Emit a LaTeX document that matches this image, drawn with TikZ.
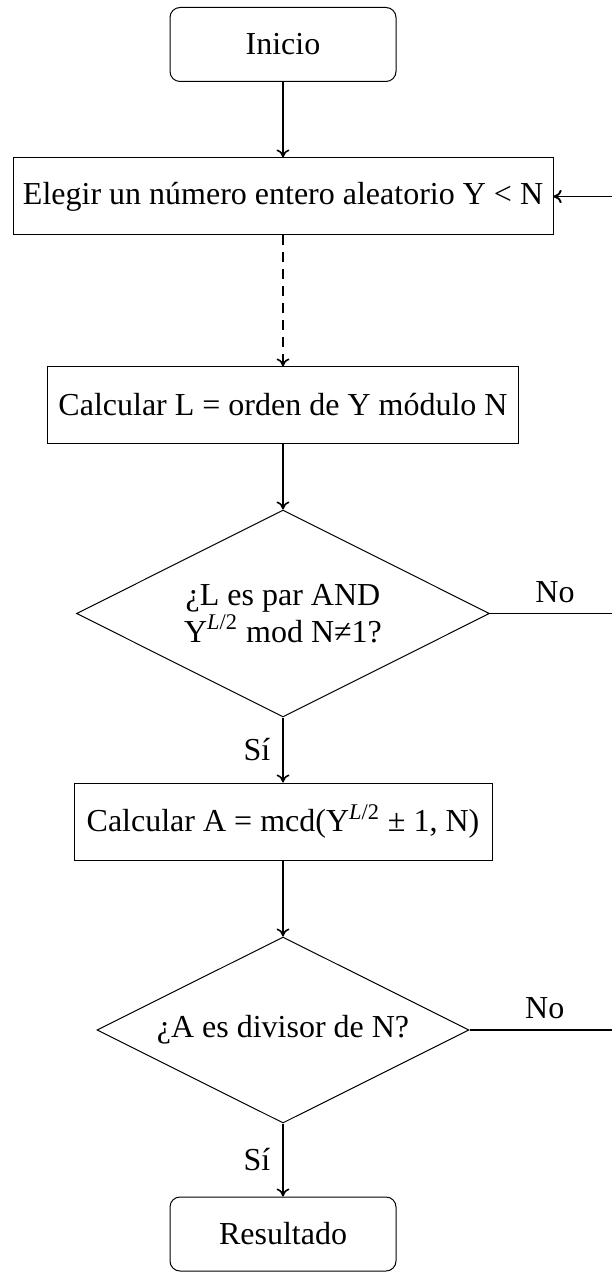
\documentclass[tikz,border=0pt]{standalone}
\usepackage{fontspec}
\setmainfont{Liberation Serif}
\usetikzlibrary{shapes.geometric,arrows.meta}
\begin{document}
\begin{tikzpicture}[x=0.5pt,y=-0.5pt,
  font=\fontsize{16}{18.5}\selectfont,
  boxline/.style={draw, line width=0.5pt},
  proc/.style={boxline, rectangle, minimum height=38.5pt, inner sep=1pt},
  term/.style={boxline, rectangle, rounded corners=5pt, minimum width=113pt, minimum height=37pt},
  decision/.style={boxline, diamond, aspect=2, align=center, inner sep=1pt},
  flow/.style={-{To[length=4pt,width=6.5pt]}, line width=0.8pt},
  dashflow/.style={flow, dash pattern=on 5pt off 3.5pt}
]
\useasboundingbox (0,0) rectangle (611,1272);

% flowchart nodes
\node[term] (inicio) at (283,44.5) {Inicio};
\node[proc, minimum width=270pt] (elegir) at (283,196.5)
  {Elegir un número entero aleatorio Y < N};
\node[proc, minimum width=235.5pt, minimum height=38pt] (calcL) at (283,405)
  {Calcular L = orden de Y módulo N};
\node[decision, minimum width=206.5pt, minimum height=103.5pt] (d1) at (283,613.5)
  {¿L es par AND\\Y\textsuperscript{\textit{L}/2} mod N≠1?};
\node[proc, minimum width=209pt] (calcA) at (283,821.5)
  {Calcular A = mcd(Y\textsuperscript{\textit{L}/2} ± 1, N)};
\node[decision, minimum width=186pt, minimum height=93pt] (d2) at (283,1030)
  {¿A es divisor de N?};
\node[term] (resultado) at (283,1234) {Resultado};

% x position of the return line on the right
\coordinate (back) at (620,0);

% main flow
\draw[flow] (inicio) -- (elegir);
\draw[dashflow] (elegir) -- (calcL);
\draw[flow] (calcL) -- (d1);
\draw[flow] (d1) -- node[left, inner sep=6pt] {Sí} (calcA);
\draw[flow] (calcA) -- (d2);
\draw[flow] (d2) -- node[left, inner sep=6pt] {Sí} (resultado);

% "No" branches back to the choice of Y
\draw[flow] (d1.east) -- node[above, inner sep=5pt] {No} (d1.east -| back) |- (elegir.east);
\draw[flow] (d2.east) -- node[above, inner sep=5pt] {No} (d2.east -| back) |- (elegir.east);
\end{tikzpicture}
\end{document}
